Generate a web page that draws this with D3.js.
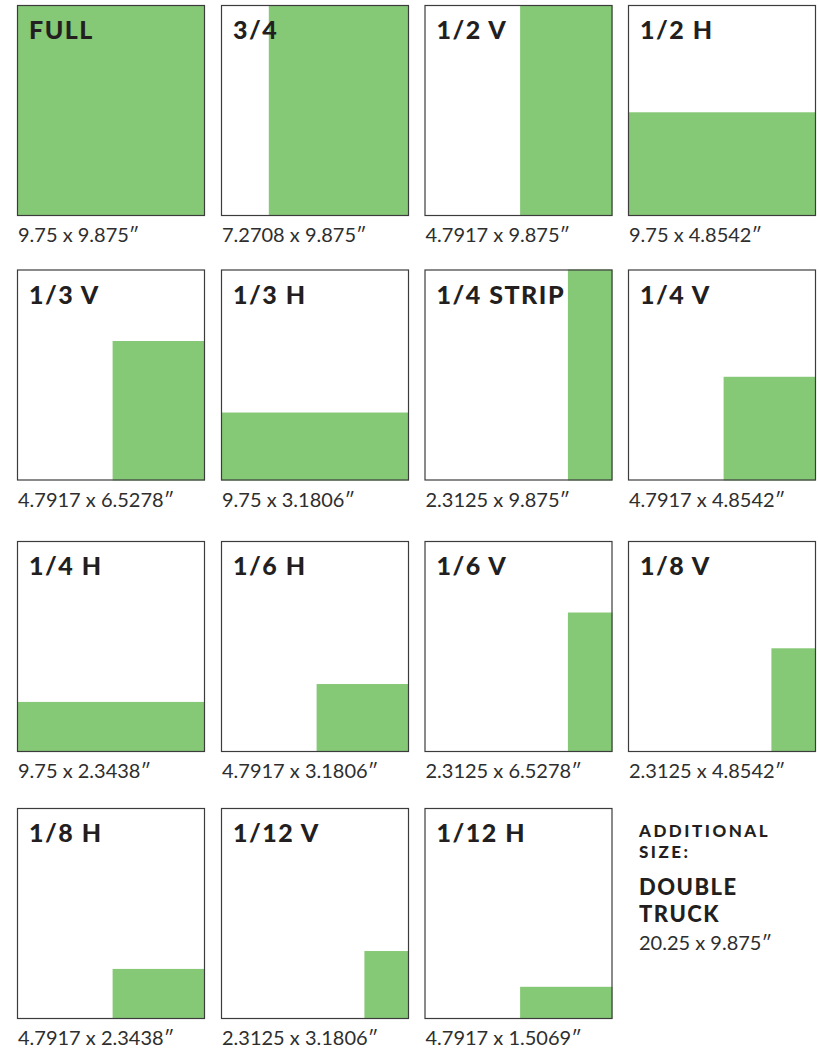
<!DOCTYPE html>
<html>
<head>
<meta charset="utf-8">
<script src="https://cdn.jsdelivr.net/npm/d3@7"></script>
<style>
  body { margin: 0; background: #fff; }
  .lbl { font-family: Lato, "Open Sans", sans-serif; font-weight: 900; fill: #231f20; }
  .dim { font-family: Lato, "Open Sans", sans-serif; font-weight: 400; fill: #2e2e2e; }
</style>
</head>
<body>
<div class="chart"></div>
<script>
// ad sizes, in inches
const labels = ["FULL", "3/4", "1/2 V", "1/2 H", "1/3 V", "1/3 H", "1/4 STRIP", "1/4 V",
                "1/4 H", "1/6 H", "1/6 V", "1/8 V", "1/8 H", "1/12 V", "1/12 H"];
const widths = [9.75, 7.2708, 4.7917, 9.75, 4.7917, 9.75, 2.3125, 4.7917,
                9.75, 4.7917, 2.3125, 2.3125, 4.7917, 2.3125, 4.7917];
const heights = [9.875, 9.875, 9.875, 4.8542, 6.5278, 3.1806, 9.875, 4.8542,
                 2.3438, 3.1806, 6.5278, 4.8542, 2.3438, 3.1806, 1.5069];
const pageW = 9.75, pageH = 9.875;
const extraTitle = ["ADDITIONAL", "SIZE:"];
const extraName = ["DOUBLE", "TRUCK"];
const extraW = 20.25, extraH = 9.875;

const width = 819, height = 1049;
const boxW = 188, boxH = 211;
const colX = [17, 221, 424.5, 628];
const rowY = [5, 269.5, 541, 808];

const svg = d3.select(".chart").append("svg")
    .attr("width", width)
    .attr("height", height);

const xScale = d3.scaleLinear().domain([0, pageW]).range([0, boxW]);
const yScale = d3.scaleLinear().domain([0, pageH]).range([0, boxH]);

const data = labels.map((l, i) => ({label: l, w: widths[i], h: heights[i], col: i % 4, row: Math.floor(i / 4)}));

const cell = svg.selectAll("g.cell")
    .data(data)
    .enter().append("g")
    .attr("class", "cell")
    .attr("transform", d => "translate(" + colX[d.col] + "," + rowY[d.row] + ")");

// green ad area, anchored bottom-right
cell.append("rect")
    .attr("x", d => xScale(pageW - d.w))
    .attr("y", d => yScale(pageH - d.h))
    .attr("width", d => xScale(d.w))
    .attr("height", d => yScale(d.h))
    .attr("fill", "#85c875");

// page outline
cell.append("rect")
    .attr("x", 0.5)
    .attr("y", 0.5)
    .attr("width", boxW - 1)
    .attr("height", boxH - 1)
    .attr("fill", "none")
    .attr("stroke", "#3c3c3c")
    .attr("stroke-width", 1.2);

cell.append("text")
    .attr("class", "lbl")
    .attr("x", 12)
    .attr("y", 34)
    .attr("font-size", "25px")
    .attr("letter-spacing", "1.5px")
    .text(d => d.label);

cell.append("text")
    .attr("class", "dim")
    .attr("x", 1)
    .attr("y", boxH + 26)
    .attr("font-size", "20px")
    .text(d => d.w + " x " + d.h + "\u2033");

// additional size block
const ex = svg.append("g").attr("transform", "translate(639,0)");

ex.append("text")
    .attr("class", "lbl")
    .attr("font-size", "17px")
    .attr("font-weight", 800)
    .attr("letter-spacing", "2.5px")
    .selectAll("tspan")
    .data(extraTitle)
    .enter().append("tspan")
    .attr("x", 0)
    .attr("y", (d, i) => 837 + i * 21)
    .text(d => d);

ex.append("text")
    .attr("class", "lbl")
    .attr("font-size", "22px")
    .attr("letter-spacing", "1.5px")
    .selectAll("tspan")
    .data(extraName)
    .enter().append("tspan")
    .attr("x", 0)
    .attr("y", (d, i) => 895 + i * 27)
    .text(d => d);

ex.append("text")
    .attr("class", "dim")
    .attr("y", 950)
    .attr("font-size", "20px")
    .text(extraW + " x " + extraH + "\u2033");
</script>
</body>
</html>
